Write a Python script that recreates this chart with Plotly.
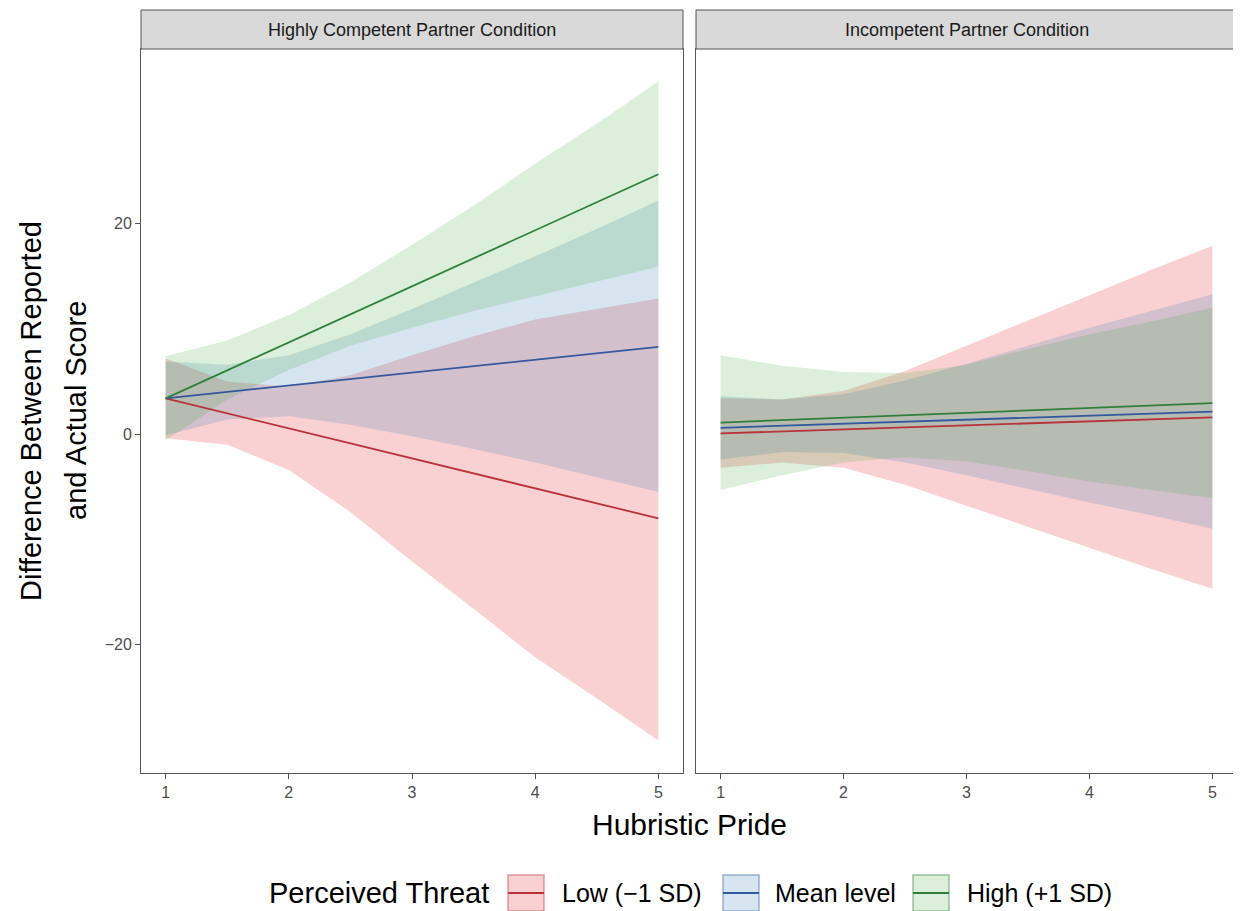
import plotly.graph_objects as go

# ---------------- data ----------------
hubristic = [1, 1.5, 2, 2.5, 3, 3.5, 4, 4.5, 5]
x_ticks = [1, 2, 3, 4, 5]
y_ticks = [-20, 0, 20]
y_ticktext = ["\u221220", "0", "20"]
groups = ["Low (\u22121 SD)", "Mean level", "High (+1 SD)"]
conditions = ["Highly Competent Partner Condition", "Incompetent Partner Condition"]

# Highly competent partner condition
hc_low_fit = [3.4, 1.98, 0.55, -0.88, -2.3, -3.73, -5.15, -6.58, -8.0]
hc_low_up = [7.2, 5.0, 4.5, 5.6, 7.5, 9.3, 10.9, 11.9, 12.9]
hc_low_lo = [-0.4, -1.0, -3.4, -7.4, -12.1, -16.6, -21.2, -25.1, -29.1]
hc_mean_fit = [3.4, 4.01, 4.63, 5.24, 5.85, 6.46, 7.08, 7.69, 8.3]
hc_mean_up = [6.9, 6.6, 7.5, 9.5, 11.9, 14.4, 16.9, 19.5, 22.2]
hc_mean_lo = [-0.1, 1.4, 1.7, 0.9, -0.2, -1.4, -2.7, -4.1, -5.5]
hc_high_fit = [3.4, 6.06, 8.73, 11.39, 14.05, 16.71, 19.38, 22.04, 24.7]
hc_high_up = [7.4, 8.9, 11.3, 14.4, 18.0, 21.7, 25.7, 29.5, 33.5]
hc_high_lo = [-0.6, 3.3, 6.1, 8.4, 10.1, 11.7, 13.1, 14.5, 15.9]

# Incompetent partner condition
ic_low_fit = [0.07, 0.26, 0.45, 0.64, 0.84, 1.03, 1.22, 1.41, 1.6]
ic_low_up = [3.4, 3.3, 4.1, 6.0, 8.4, 10.8, 13.2, 15.6, 17.9]
ic_low_lo = [-3.2, -2.7, -3.2, -4.8, -6.8, -8.8, -10.8, -12.8, -14.7]
ic_mean_fit = [0.6, 0.79, 0.99, 1.18, 1.38, 1.57, 1.76, 1.96, 2.15]
ic_mean_up = [3.6, 3.3, 3.8, 5.1, 6.7, 8.4, 10.1, 11.7, 13.3]
ic_mean_lo = [-2.4, -1.7, -1.8, -2.7, -3.9, -5.2, -6.5, -7.7, -9.0]
ic_high_fit = [1.1, 1.33, 1.56, 1.79, 2.03, 2.26, 2.49, 2.72, 2.95]
ic_high_up = [7.5, 6.5, 5.9, 5.8, 6.6, 8.1, 9.5, 10.7, 12.0]
ic_high_lo = [-5.3, -3.9, -2.7, -2.2, -2.6, -3.5, -4.5, -5.3, -6.1]

# ---------------- styling ----------------
line_colors = ["#b8323a", "#34589e", "#2f7f3b"]
fill_colors = ["rgba(228,26,28,0.2)", "rgba(55,126,184,0.2)", "rgba(77,175,74,0.2)"]
edge_colors = ["rgba(200,80,90,0.55)", "rgba(80,120,180,0.55)", "rgba(80,150,90,0.55)"]
FONT = "Liberation Sans, Arial, Helvetica, sans-serif"

# page geometry (the page body adds an 8px offset)
OFF = 8
PAGE_W, PAGE_H = 1241, 911
W, H = PAGE_W - OFF, PAGE_H - OFF
# panel area in page pixels
PL, PR, PT, PB = 141, 1237, 49, 773
LEFT_END, RIGHT_START = 683, 696
PW, PH = PR - PL, PB - PT


def px(xp):
    return (xp - PL) / PW


def py(yp):
    return (PB - yp) / PH


panels = [
    ("x", "y", [(hc_low_fit, hc_low_up, hc_low_lo),
                (hc_mean_fit, hc_mean_up, hc_mean_lo),
                (hc_high_fit, hc_high_up, hc_high_lo)]),
    ("x2", "y2", [(ic_low_fit, ic_low_up, ic_low_lo),
                  (ic_mean_fit, ic_mean_up, ic_mean_lo),
                  (ic_high_fit, ic_high_up, ic_high_lo)]),
]

fig = go.Figure()
for xa, ya, series in panels:
    for i, (fit, up, lo) in enumerate(series):
        fig.add_trace(go.Scatter(
            x=hubristic + hubristic[::-1], y=up + lo[::-1],
            xaxis=xa, yaxis=ya, fill="toself", fillcolor=fill_colors[i],
            line=dict(width=0), mode="lines", hoverinfo="skip", showlegend=False))
    for i, (fit, up, lo) in enumerate(series):
        fig.add_trace(go.Scatter(
            x=hubristic, y=fit, xaxis=xa, yaxis=ya, mode="lines",
            line=dict(color=line_colors[i], width=1.8), name=groups[i],
            showlegend=False))

axis_common = dict(
    showgrid=False, zeroline=False, showline=True, mirror=True,
    linecolor="#555555", linewidth=1, ticklen=5,
    tickcolor="#555555", tickwidth=1,
    tickfont=dict(family=FONT, size=16, color="#4d4d4d"),
)

fig.update_layout(
    width=W, height=H,
    margin=dict(l=PL - OFF, r=PAGE_W - PR, t=PT - OFF, b=PAGE_H - PB, pad=0),
    paper_bgcolor="white", plot_bgcolor="white",
    showlegend=False,
    font=dict(family=FONT, color="black"),
    xaxis=dict(domain=[0, px(LEFT_END)], range=[0.8, 5.2], tickvals=x_ticks,
               anchor="y", ticks="outside", **axis_common),
    xaxis2=dict(domain=[px(RIGHT_START), 1], range=[0.8, 5.2], tickvals=x_ticks,
                anchor="y2", ticks="outside", **axis_common),
    yaxis=dict(domain=[0, 1], range=[-32.2, 36.6], tickvals=y_ticks,
               ticktext=y_ticktext, anchor="x", ticks="outside", **axis_common),
    yaxis2=dict(domain=[0, 1], range=[-32.2, 36.6], tickvals=y_ticks,
                showticklabels=False, anchor="x2", ticks="", **axis_common),
)

shapes = []
annotations = []

# facet strips
strip_top = py(10)
for (x0, x1), label in zip([(0, px(LEFT_END)), (px(RIGHT_START), 1)], conditions):
    shapes.append(dict(type="rect", xref="paper", yref="paper", x0=x0, x1=x1,
                       y0=1, y1=strip_top, fillcolor="#d9d9d9",
                       line=dict(color="#555555", width=1), layer="above"))
    annotations.append(dict(xref="paper", yref="paper", x=(x0 + x1) / 2,
                            y=(1 + strip_top) / 2, text=label, showarrow=False,
                            xanchor="center", yanchor="middle",
                            font=dict(family=FONT, size=18, color="#1a1a1a")))

# axis titles
annotations.append(dict(xref="paper", yref="paper", x=px(689), y=py(824),
                        text="Hubristic Pride", showarrow=False,
                        xanchor="center", yanchor="middle",
                        font=dict(family=FONT, size=30, color="black")))
annotations.append(dict(xref="paper", yref="paper", x=px(31), y=0.5,
                        text="Difference Between Reported", showarrow=False,
                        textangle=-90, xanchor="center", yanchor="middle",
                        font=dict(family=FONT, size=29, color="black")))
annotations.append(dict(xref="paper", yref="paper", x=px(76), y=0.5,
                        text="and Actual Score", showarrow=False,
                        textangle=-90, xanchor="center", yanchor="middle",
                        font=dict(family=FONT, size=29, color="black")))

# manual legend (ggplot-style keys)
leg_y = 893
annotations.append(dict(xref="paper", yref="paper", x=px(491), y=py(leg_y),
                        text="Perceived Threat", showarrow=False,
                        xanchor="right", yanchor="middle",
                        font=dict(family=FONT, size=29, color="black")))
box_lefts = [508, 723, 913]
label_lefts = [560, 773, 965]
for i in range(3):
    bx0, bx1 = box_lefts[i], box_lefts[i] + 36
    shapes.append(dict(type="rect", xref="paper", yref="paper",
                       x0=px(bx0), x1=px(bx1), y0=py(875), y1=py(911),
                       fillcolor=fill_colors[i],
                       line=dict(color=edge_colors[i], width=1.5)))
    shapes.append(dict(type="line", xref="paper", yref="paper",
                       x0=px(bx0), x1=px(bx1), y0=py(leg_y), y1=py(leg_y),
                       line=dict(color=line_colors[i], width=2)))
    annotations.append(dict(xref="paper", yref="paper", x=px(label_lefts[i]),
                            y=py(leg_y), text=groups[i], showarrow=False,
                            xanchor="left", yanchor="middle",
                            font=dict(family=FONT, size=25, color="black")))

fig.update_layout(shapes=shapes, annotations=annotations)
fig.write_html("out.html")
